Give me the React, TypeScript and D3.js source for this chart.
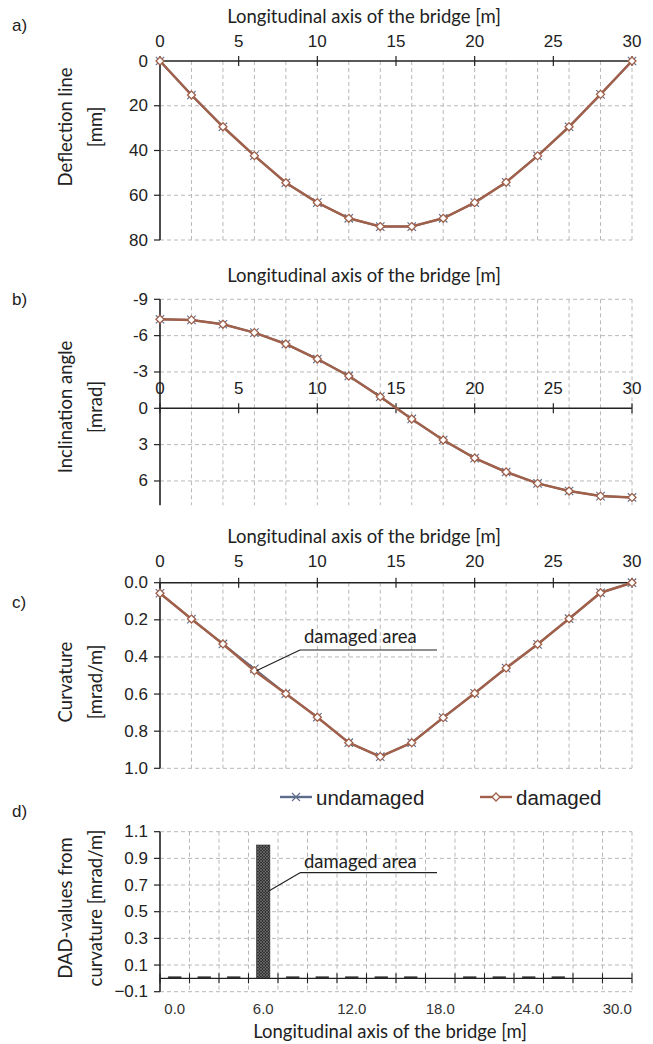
import React from "react";
import * as d3 from "d3";

// ---------- data ----------
const positions = [0, 2, 4, 6, 8, 10, 12, 14, 16, 18, 20, 22, 24, 26, 28, 30];
const deflectionUndamaged = [0, 15.2, 29.4, 42.3, 54.4, 63.3, 70.3, 74.0, 74.0, 70.3, 63.3, 54.2, 42.4, 29.4, 14.9, 0];
const deflectionDamaged = [0, 15.2, 29.4, 42.3, 54.4, 63.3, 70.3, 74.0, 74.0, 70.3, 63.3, 54.2, 42.4, 29.4, 14.9, 0];
const inclinationUndamaged = [-7.35, -7.3, -6.94, -6.25, -5.31, -4.07, -2.67, -0.96, 0.88, 2.62, 4.11, 5.26, 6.2, 6.83, 7.25, 7.36];
const inclinationDamaged = [-7.35, -7.3, -6.94, -6.25, -5.31, -4.07, -2.67, -0.96, 0.88, 2.62, 4.11, 5.26, 6.2, 6.83, 7.25, 7.36];
const curvatureUndamaged = [0.057, 0.196, 0.33, 0.464, 0.598, 0.725, 0.862, 0.937, 0.862, 0.727, 0.596, 0.46, 0.332, 0.194, 0.054, 0.0];
const curvatureDamaged = [0.057, 0.196, 0.33, 0.474, 0.598, 0.725, 0.862, 0.937, 0.862, 0.727, 0.596, 0.46, 0.332, 0.194, 0.054, 0.0];
const dadCategories = ["0.0", "2.0", "4.0", "6.0", "8.0", "10.0", "12.0", "14.0", "16.0", "18.0", "20.0", "22.0", "24.0", "26.0", "28.0", "30.0"];
const dadValues = [0.015, 0.015, 0.015, 1.0, 0.015, 0.015, 0.015, 0.015, 0.015, 0, 0.015, 0.015, 0.015, 0.015, 0, 0];
const dadLabelCategories = ["0.0", "6.0", "12.0", "18.0", "24.0", "30.0"];

const xMajorTicks = [0, 5, 10, 15, 20, 25, 30];
const inclinationTicks = [-9, -6, -3, 0, 3, 6];
const curvatureTicks = [0, 0.2, 0.4, 0.6, 0.8, 1.0];
const dadTicks = [1.1, 0.9, 0.7, 0.5, 0.3, 0.1, -0.1];

const xTitle = "Longitudinal axis of the bridge [m]";

// ---------- style ----------
const C_UND = "#5d6c8c";
const C_DAM = "#a0604a";
const GRID = "#b8b8b8";
const AXIS = "#222";
const SANS = "'Liberation Sans', Arial, sans-serif";
const HUM = "Lato, 'Open Sans', sans-serif";

const X0 = 160;
const X1 = 632;

const x = d3.scaleLinear().domain([0, 30]).range([X0, X1]);

function Grid({ y, yTicksGrid, top, bottom }: any) {
  return (
    <g>
      {positions.filter((p) => p > 0).map((p) => (
        <line key={"v" + p} x1={x(p)} x2={x(p)} y1={top} y2={bottom} stroke={GRID} strokeDasharray="4,3" strokeWidth={1} />
      ))}
      {yTicksGrid.map((t: number) => (
        <line key={"h" + t} x1={X0} x2={X1} y1={y(t)} y2={y(t)} stroke={GRID} strokeDasharray="4,3" strokeWidth={1} />
      ))}
    </g>
  );
}

function Series({ y, und, dam }: any) {
  const line = d3
    .line<number>()
    .x((_, i) => x(positions[i]))
    .y((v) => y(v));
  return (
    <g>
      <path d={line(und) || ""} fill="none" stroke={C_UND} strokeWidth={2} />
      {und.map((v: number, i: number) => {
        const cx = x(positions[i]);
        const cy = y(v);
        const s = 4.2;
        return (
          <path key={"u" + i} d={`M${cx - s},${cy - s}L${cx + s},${cy + s}M${cx - s},${cy + s}L${cx + s},${cy - s}`} stroke={C_UND} strokeWidth={1.1} />
        );
      })}
      <path d={line(dam) || ""} fill="none" stroke={C_DAM} strokeWidth={2.5} />
      {dam.map((v: number, i: number) => {
        const cx = x(positions[i]);
        const cy = y(v);
        const s = 4;
        return (
          <path key={"d" + i} d={`M${cx},${cy - s}L${cx + s},${cy}L${cx},${cy + s}L${cx - s},${cy}Z`} fill="#fff" stroke={C_DAM} strokeWidth={1.3} />
        );
      })}
    </g>
  );
}

function XAxis({ yPos, labelY }: any) {
  return (
    <g>
      <line x1={X0} x2={X1} y1={yPos} y2={yPos} stroke={AXIS} strokeWidth={1.6} />
      {xMajorTicks.map((t) => (
        <g key={t}>
          <line x1={x(t)} x2={x(t)} y1={yPos - 5} y2={yPos + 5} stroke={AXIS} strokeWidth={1.2} />
          <text x={x(t)} y={labelY} textAnchor="middle" dominantBaseline="central" fontFamily={SANS} fontSize={17} fill="#222">
            {t}
          </text>
        </g>
      ))}
    </g>
  );
}

function YAxis({ y, ticks, top, bottom, fmt }: any) {
  return (
    <g>
      <line x1={X0} x2={X0} y1={top} y2={bottom} stroke={AXIS} strokeWidth={1.6} />
      {ticks.map((t: number) => (
        <g key={t}>
          <line x1={X0 - 6} x2={X0} y1={y(t)} y2={y(t)} stroke={AXIS} strokeWidth={1.2} />
          <text x={148} y={y(t)} textAnchor="end" dominantBaseline="central" fontFamily={SANS} fontSize={17} fill="#222">
            {fmt ? fmt(t) : t}
          </text>
        </g>
      ))}
    </g>
  );
}

function YTitle({ lines, cy }: any) {
  return (
    <g>
      {lines.map((l: string, i: number) => {
        const xx = 65 + i * 30;
        return (
          <text key={i} x={xx} y={cy} transform={`rotate(-90 ${xx} ${cy})`} textAnchor="middle" dominantBaseline="central" fontFamily={HUM} fontSize={18.5} fill="#222">
            {l}
          </text>
        );
      })}
    </g>
  );
}

function Letter({ t, yy }: any) {
  return (
    <text x={12} y={yy} dominantBaseline="central" fontFamily={SANS} fontSize={17} fill="#222">
      {t}
    </text>
  );
}

function XTitle({ yy, cx }: any) {
  return (
    <text x={cx} y={yy} textAnchor="middle" dominantBaseline="central" fontFamily={HUM} fontSize={18.5} fill="#222">
      {xTitle}
    </text>
  );
}

export default function App() {
  // panel a
  const ya = d3.scaleLinear().domain([0, 80]).range([61, 240]);
  // panel b
  const yb = d3.scaleLinear().domain([-9, 0]).range([299.3, 408.3]);
  const bBottom = yb(8);
  // panel c
  const yc = d3.scaleLinear().domain([0, 1]).range([582.7, 768.3]);
  // panel d
  const yd = d3.scaleLinear().domain([-0.1, 1.1]).range([991.7, 831.7]);
  const xb = d3.scaleBand<string>().domain(dadCategories).range([X0, X1]).paddingInner(0).paddingOuter(0);
  const bw = xb.bandwidth() * 0.45;
  const boundaries = d3.range(dadCategories.length + 1).map((i) => X0 + i * xb.bandwidth());

  return (
    <svg width={653} height={1044} style={{ position: "absolute", left: 0, top: 0, background: "#fff" }}>
      <defs>
        <pattern id="hatch" width={3} height={3} patternUnits="userSpaceOnUse">
          <rect width={3} height={3} fill="#333" />
          <path d="M0,0L3,3M3,0L0,3" stroke="#7a7a7a" strokeWidth={0.6} />
        </pattern>
      </defs>

      {/* ---------- panel a ---------- */}
      <Letter t="a)" yy={25} />
      <XTitle yy={16} cx={364} />
      <Grid y={ya} yTicksGrid={[20, 40, 60, 80]} top={61} bottom={240} />
      <YAxis y={ya} ticks={[20, 40, 60, 80]} top={61} bottom={240} />
      <text x={148} y={ya(0)} textAnchor="end" dominantBaseline="central" fontFamily={SANS} fontSize={17} fill="#222">0</text>
      <XAxis yPos={ya(0)} labelY={41} />
      <YTitle lines={["Deflection line", "[mm]"]} cy={127} />
      <Series y={ya} und={deflectionUndamaged} dam={deflectionDamaged} />

      {/* ---------- panel b ---------- */}
      <Letter t="b)" yy={299} />
      <XTitle yy={275} cx={364} />
      <Grid y={yb} yTicksGrid={[-9, -6, -3, 3, 6]} top={yb(-9)} bottom={bBottom} />
      <YAxis y={yb} ticks={inclinationTicks} top={yb(-9)} bottom={bBottom} />
      <XAxis yPos={yb(0)} labelY={388} />
      <YTitle lines={["Inclination angle", "[mrad]"]} cy={407} />
      <Series y={yb} und={inclinationUndamaged} dam={inclinationDamaged} />

      {/* ---------- panel c ---------- */}
      <Letter t="c)" yy={602} />
      <XTitle yy={536} cx={364} />
      <Grid y={yc} yTicksGrid={[0.2, 0.4, 0.6, 0.8, 1.0]} top={yc(0)} bottom={yc(1)} />
      <YAxis y={yc} ticks={curvatureTicks} top={yc(0)} bottom={yc(1)} fmt={(t: number) => d3.format(".1f")(t)} />
      <XAxis yPos={yc(0)} labelY={561} />
      <YTitle lines={["Curvature", "[mrad/m]"]} cy={682} />
      <Series y={yc} und={curvatureUndamaged} dam={curvatureDamaged} />
      <g>
        <text x={304} y={636} dominantBaseline="central" fontFamily={HUM} fontSize={18.5} fill="#222">damaged area</text>
        <line x1={300} x2={437} y1={650} y2={650} stroke="#222" strokeWidth={1.2} />
        <line x1={300} x2={x(6) + 2} y1={650} y2={yc(curvatureDamaged[3])} stroke="#222" strokeWidth={1.2} />
      </g>

      {/* ---------- legend ---------- */}
      <g>
        <line x1={280} x2={312} y1={797} y2={797} stroke={C_UND} strokeWidth={2.4} />
        <path d="M292,793L300,801M292,801L300,793" stroke={C_UND} strokeWidth={1.1} />
        <text x={316} y={797} dominantBaseline="central" fontFamily={SANS} fontSize={20.5} fill="#222">undamaged</text>
        <line x1={480} x2={512} y1={797} y2={797} stroke={C_DAM} strokeWidth={2.4} />
        <path d="M496,793L500,797L496,801L492,797Z" fill="#fff" stroke={C_DAM} strokeWidth={1.3} />
        <text x={516} y={797} dominantBaseline="central" fontFamily={SANS} fontSize={20.5} fill="#222">damaged</text>
      </g>

      {/* ---------- panel d ---------- */}
      <Letter t="d)" yy={811} />
      <g>
        {boundaries.slice(1).map((bx, i) => (
          <line key={"dv" + i} x1={bx} x2={bx} y1={yd(1.1)} y2={yd(-0.1)} stroke={GRID} strokeDasharray="4,3" strokeWidth={1} />
        ))}
        {dadTicks.map((t) => (
          <line key={"dh" + t} x1={X0} x2={X1} y1={yd(t)} y2={yd(t)} stroke={GRID} strokeDasharray="4,3" strokeWidth={1} />
        ))}
      </g>
      {dadCategories.map((c, i) => {
        const v = dadValues[i];
        if (v <= 0) return null;
        const big = v > 0.5;
        return (
          <rect key={c} x={(xb(c) as number) + (xb.bandwidth() - bw) / 2} width={bw} y={yd(v)} height={yd(0) - yd(v)} fill={big ? "url(#hatch)" : "#333"} stroke={big ? "#222" : "none"} strokeWidth={0.6} />
        );
      })}
      <g>
        <line x1={X0} x2={X1} y1={yd(0)} y2={yd(0)} stroke={AXIS} strokeWidth={1.4} />
        {boundaries.map((bx, i) => (
          <line key={"dt" + i} x1={bx} x2={bx} y1={yd(0) - 5} y2={yd(0) + 5} stroke={AXIS} strokeWidth={1.1} />
        ))}
        {dadLabelCategories.map((c) => (
          <text key={c} x={(xb(c) as number) + xb.bandwidth() / 2} y={1008} textAnchor="middle" dominantBaseline="central" fontFamily={SANS} fontSize={15} fill="#333">
            {c}
          </text>
        ))}
      </g>
      <YAxis y={yd} ticks={dadTicks} top={yd(1.1)} bottom={yd(-0.1)} fmt={(t: number) => d3.format(".1f")(t)} />
      <YTitle lines={["DAD-values from", "curvature [mrad/m]"]} cy={908} />
      <text x={390} y={1031} textAnchor="middle" dominantBaseline="central" fontFamily={HUM} fontSize={18.5} fill="#222">
        {xTitle}
      </text>
      <g>
        <text x={304} y={861} dominantBaseline="central" fontFamily={HUM} fontSize={18.5} fill="#222">damaged area</text>
        <line x1={300} x2={437} y1={872.7} y2={872.7} stroke="#222" strokeWidth={1.2} />
        <line x1={300} x2={(xb("6.0") as number) + xb.bandwidth() / 2 + 6} y1={872.7} y2={890.7} stroke="#222" strokeWidth={1.2} />
      </g>
    </svg>
  );
}
